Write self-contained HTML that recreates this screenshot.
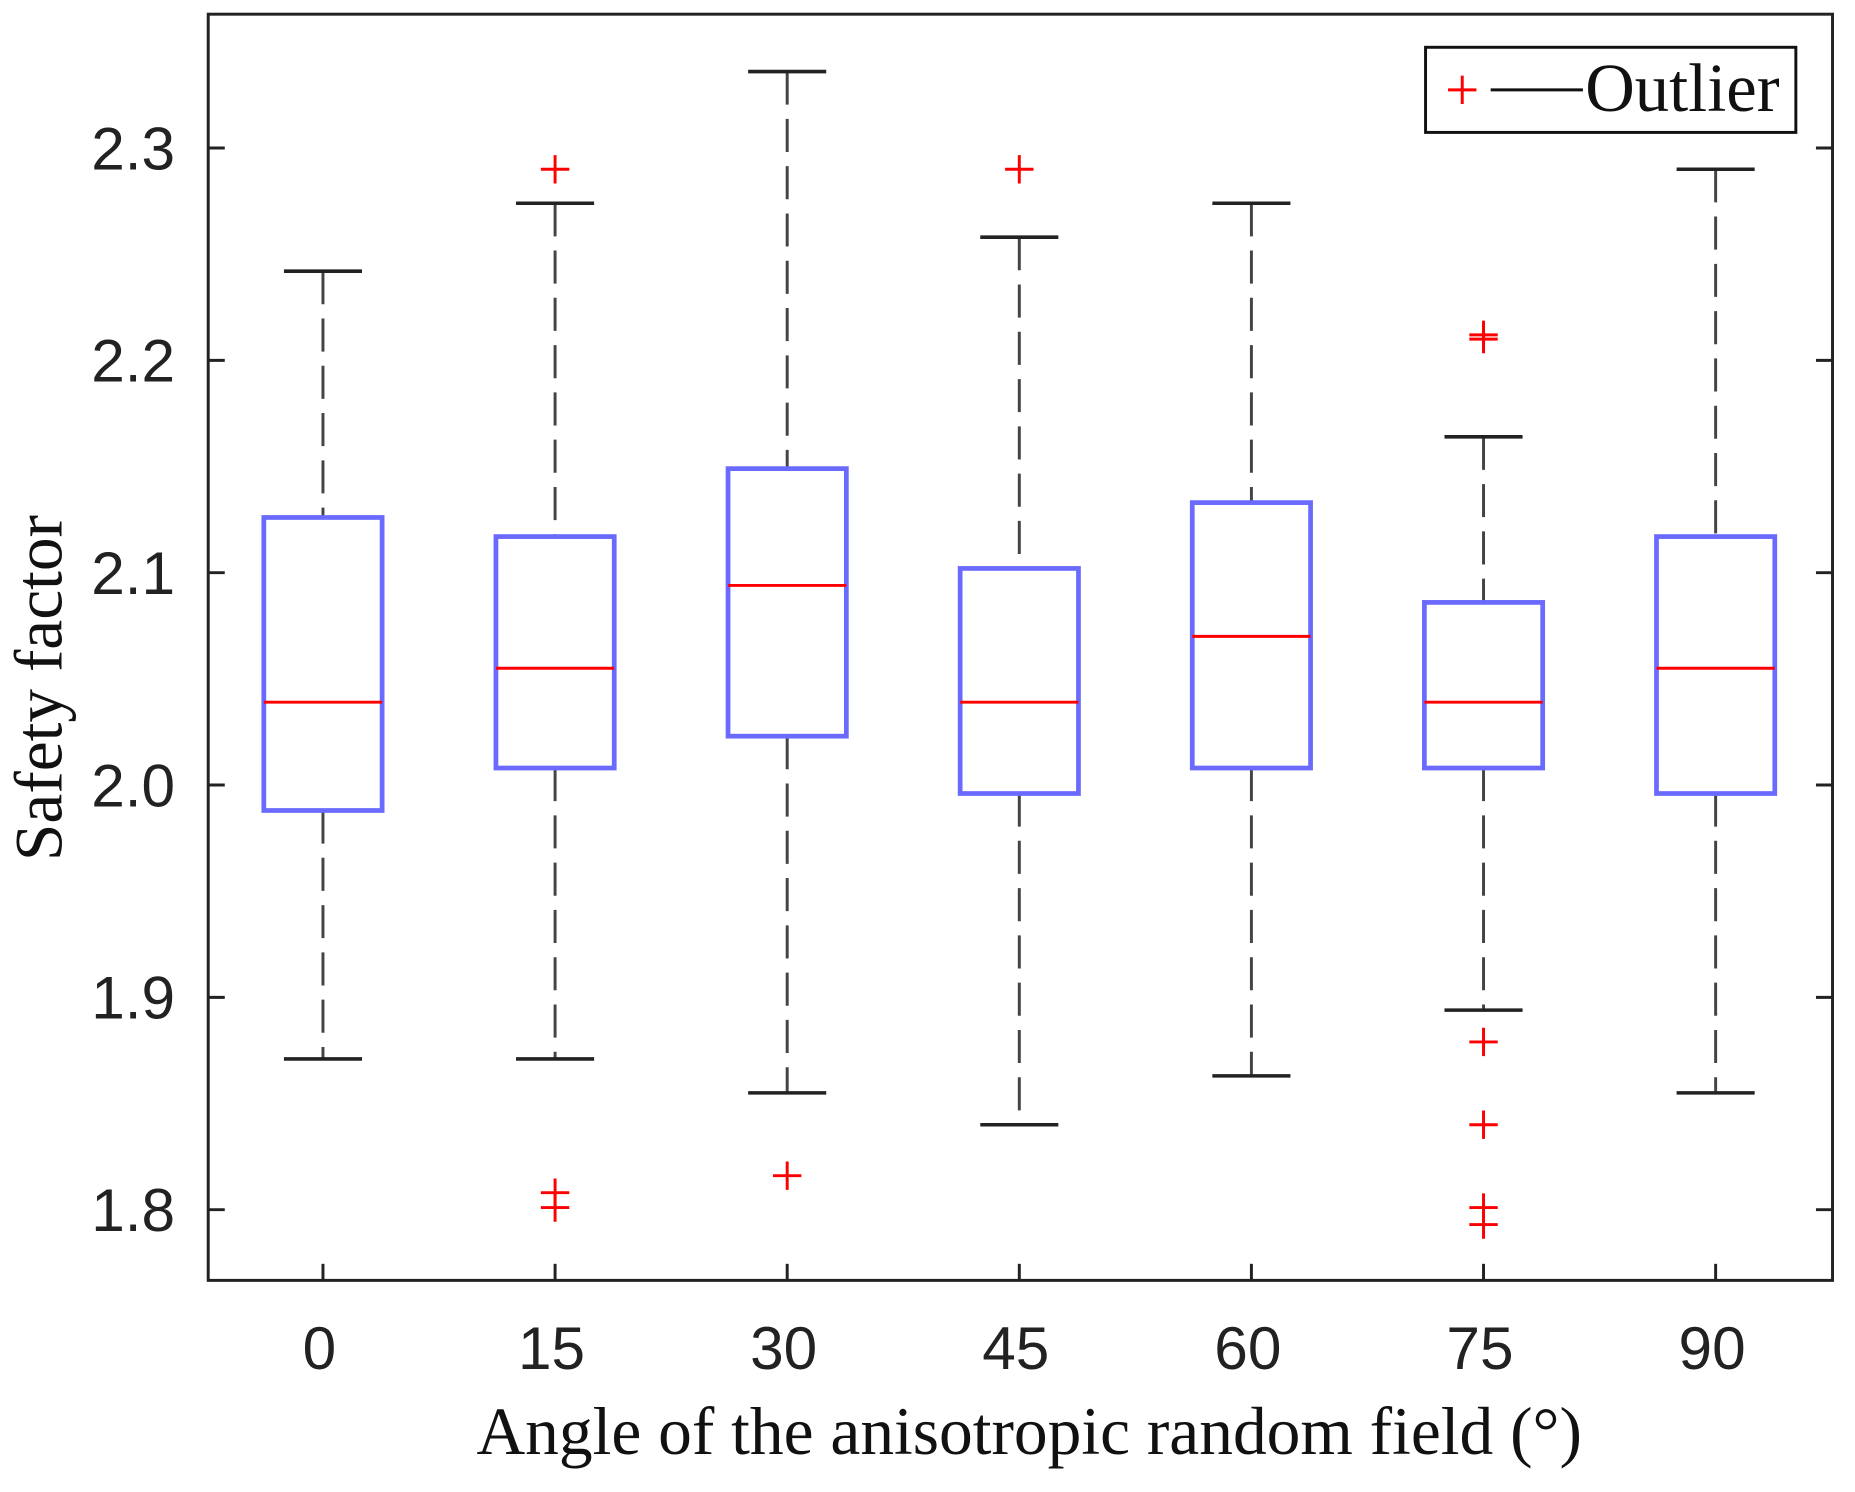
<!DOCTYPE html>
<html><head><meta charset="utf-8"><style>html,body{margin:0;padding:0;background:#fff}svg{display:block}</style></head>
<body>
<svg id="chart" width="1855" height="1492" viewBox="0 0 1568 1262" preserveAspectRatio="none" xmlns="http://www.w3.org/2000/svg">
<rect x="0" y="0" width="1568" height="1262" fill="#fff"/>
<g id="marks"></g>
<rect x="176" y="12" width="1373" height="1071" fill="none" stroke="#222" stroke-width="2.5"/>
<text transform="translate(52,582) rotate(-90)" text-anchor="middle" font-family="Liberation Serif, serif" font-size="57" fill="#111">Safety factor</text>
<text x="870" y="1230" text-anchor="middle" font-family="Liberation Serif, serif" font-size="57" fill="#111">Angle of the anisotropic random field (°)</text>
<g>
<rect x="1205" y="40" width="313" height="72" fill="#fff" stroke="#111" stroke-width="2.5"/>
<path d="M1224 76h24M1236 64v24" stroke="#f00" stroke-width="2.5"/>
<line x1="1260" y1="76" x2="1338" y2="76" stroke="#111" stroke-width="2.5"/>
<text x="1340" y="94" font-family="Liberation Serif, serif" font-size="58" fill="#111">Outlier</text>
</g>
</svg>
<script>
const categories=["0","15","30","45","60","75","90"];
const whiskerHigh=[2.242,2.274,2.336,2.258,2.274,2.164,2.290];
const q3=[2.126,2.117,2.149,2.102,2.133,2.086,2.117];
const medians=[2.039,2.055,2.094,2.039,2.070,2.039,2.055];
const q1=[1.988,2.008,2.023,1.996,2.008,2.008,1.996];
const whiskerLow=[1.871,1.871,1.855,1.840,1.863,1.894,1.855];
const outliers=[[],[2.290,1.808,1.801],[1.816],[2.290],[],[2.212,2.210,1.879,1.840,1.801,1.793],[]];
const yTicks=[1.8,1.9,2.0,2.1,2.2,2.3];
const yTickLabels=["1.8","1.9","2.0","2.1","2.2","2.3"];

const NS="http://www.w3.org/2000/svg";
const g=document.getElementById('marks');
const yS=v=>664-(v-2.0)*1796;
const xS=i=>273+i*196.2;
function mk(tag,a){const e=document.createElementNS(NS,tag);for(const k in a)e.setAttribute(k,a[k]);g.appendChild(e);return e;}

yTicks.forEach((v,i)=>{
  const y=yS(v);
  let t=mk('line',{x1:176,y1:y,x2:190,y2:y,stroke:'#222','stroke-width':2.5});
  
  
  t=mk('line',{x1:1535,y1:y,x2:1549,y2:y,stroke:'#222','stroke-width':2.5});
  
  
  const tx=mk('text',{x:148,y:y+18,'text-anchor':'end','font-family':'Liberation Sans, sans-serif','font-size':51,fill:'#222'});
  tx.textContent=yTickLabels[i];
  
  
});
categories.forEach((c,i)=>{
  const x=xS(i);
  let t=mk('line',{x1:x,y1:1069,x2:x,y2:1083,stroke:'#222','stroke-width':2.5});
  
  
  const tx=mk('text',{x:x-3,y:1158,'text-anchor':'middle','font-family':'Liberation Sans, sans-serif','font-size':51,fill:'#222'});
  tx.textContent=c;
  
  

  let w=mk('line',{x1:x,y1:yS(whiskerHigh[i]),x2:x,y2:yS(q3[i]),stroke:'#444','stroke-width':2.5,'stroke-dasharray':'28 12'});
  
  
  w=mk('line',{x1:x,y1:yS(q1[i]),x2:x,y2:yS(whiskerLow[i]),stroke:'#444','stroke-width':2.5,'stroke-dasharray':'28 12'});
  
  
  w=mk('line',{x1:x-33,y1:yS(whiskerHigh[i]),x2:x+33,y2:yS(whiskerHigh[i]),stroke:'#222','stroke-width':3});
  
  
  w=mk('line',{x1:x-33,y1:yS(whiskerLow[i]),x2:x+33,y2:yS(whiskerLow[i]),stroke:'#222','stroke-width':3});
  
  
  const b=mk('rect',{x:x-50,y:yS(q3[i]),width:100,height:yS(q1[i])-yS(q3[i]),fill:'none',stroke:'#6a6aff','stroke-width':4});
  
  
  const m=mk('line',{x1:x-50,y1:yS(medians[i]),x2:x+50,y2:yS(medians[i]),stroke:'#f00','stroke-width':2.5});
  
  
  outliers[i].forEach(v=>{
    const y=yS(v);
    const p=mk('path',{d:`M${x-12} ${y}h24M${x} ${y-12}v24`,stroke:'#f00','stroke-width':2.5});
    
    
  });
});
</script>
</body></html>
